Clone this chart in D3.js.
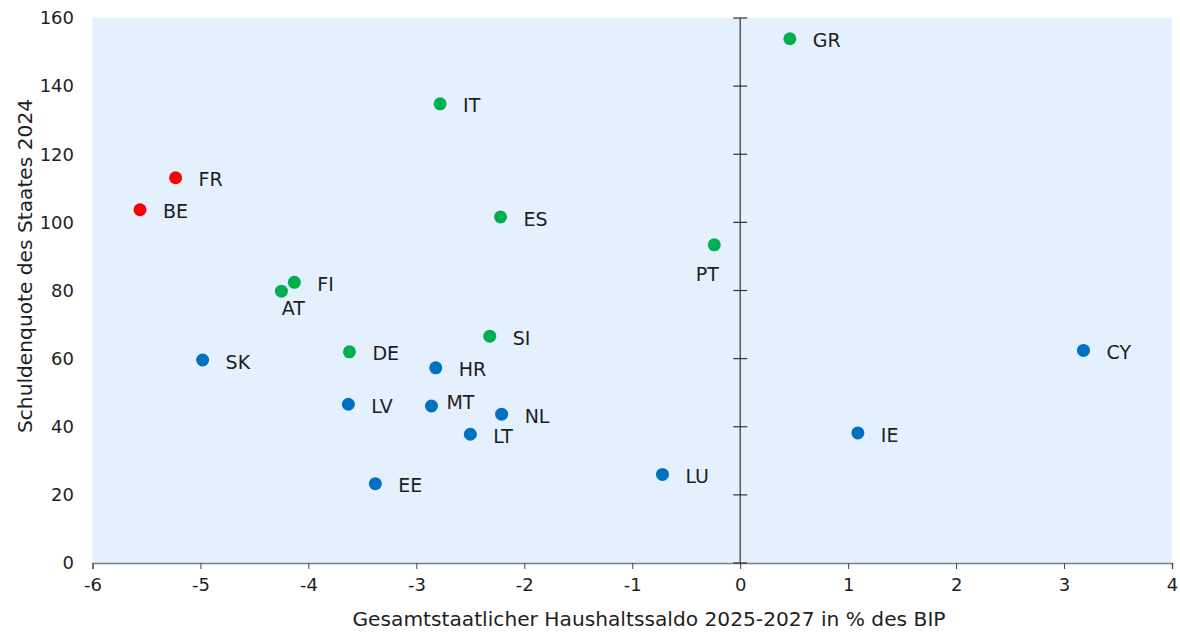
<!DOCTYPE html>
<html>
<head>
<meta charset="utf-8">
<script src="https://cdn.jsdelivr.net/npm/d3@7/dist/d3.min.js"></script>
<style>
  html, body { margin: 0; padding: 0; background: #ffffff; }
  svg { display: block; font-family: "DejaVu Sans", "Lato", sans-serif; }
</style>
</head>
<body>
<svg id="chart" width="1180" height="632"></svg>
<script>
// Country codes
const countries = ["GR","IT","FR","BE","ES","PT","FI","AT","SI","DE","SK","CY","HR","LV","MT","NL","LT","IE","LU","EE"];
// Overall budget balance 2025-2027, % of GDP
const balance = [0.46,-2.78,-5.23,-5.56,-2.22,-0.24,-4.13,-4.25,-2.32,-3.62,-4.98,3.18,-2.82,-3.63,-2.86,-2.21,-2.50,1.09,-0.72,-3.38];
// Government debt ratio 2024
const debt = [153.9,134.8,113.1,103.7,101.6,93.4,82.4,79.8,66.6,62.0,59.6,62.4,57.3,46.6,46.1,43.7,37.8,38.2,26.0,23.3];
// Group of each country
const group = ["g","g","r","r","g","g","g","g","g","g","b","b","b","b","b","b","b","b","b","b"];
// Where each label sits relative to its dot
const labelSide = ["right","right","right","right","right","below-left","right","below","right","right","right","right","right","right","upper-right","right","right","right","right","right"];

const xTicks = [-6,-5,-4,-3,-2,-1,0,1,2,3,4];
const yTicks = [0,20,40,60,80,100,120,140,160];
const xTitle = "Gesamtstaatlicher Haushaltssaldo 2025-2027 in % des BIP";
const yTitle = "Schuldenquote des Staates 2024";

const colors = { g: "#00b050", r: "#ff0000", b: "#0070c0" };
const ink = "#1e1e1e";

const svg = d3.select("#chart");
const m = { left: 92.5, right: 1172, top: 18, bottom: 563 };

const x = d3.scaleLinear().domain([-6, 4]).range([m.left, m.right]);
const y = d3.scaleLinear().domain([0, 160]).range([m.bottom, m.top]);

// plot background
svg.append("rect")
  .attr("x", m.left).attr("y", m.top)
  .attr("width", m.right - m.left).attr("height", m.bottom - m.top)
  .attr("fill", "#e4f0fd");

// bottom axis
const gx = svg.append("g")
  .attr("transform", `translate(0,${m.bottom})`)
  .call(d3.axisBottom(x).tickValues(xTicks).tickSize(6).tickPadding(9).tickFormat(d3.format("d")));
gx.select(".domain").attr("stroke", "#808080").attr("stroke-width", 1.5);
gx.selectAll(".tick line").attr("stroke", "#404040");
gx.selectAll(".tick text").attr("font-size", 18).attr("fill", ink)
  .attr("font-family", "DejaVu Sans, sans-serif")
  .text(d => d < 0 ? "-" + Math.abs(d) : d);

// vertical axis through x = 0, ticks crossing the line
const gy = svg.append("g").attr("transform", `translate(${x(0)},0)`);
gy.append("line")
  .attr("y1", m.top).attr("y2", m.bottom)
  .attr("stroke", "#333").attr("stroke-width", 1.2);
gy.selectAll("line.tk").data(yTicks).join("line")
  .attr("class", "tk")
  .attr("x1", -7).attr("x2", 7)
  .attr("y1", d => y(d)).attr("y2", d => y(d))
  .attr("stroke", "#333").attr("stroke-width", 1.2);

// y tick labels on the left of the plot
svg.append("g").selectAll("text").data(yTicks).join("text")
  .attr("x", 74).attr("y", d => y(d)).attr("dy", "0.35em")
  .attr("text-anchor", "end").attr("font-size", 18).attr("fill", ink)
  .text(d => d);

// axis titles
svg.append("text")
  .attr("x", 649).attr("y", 626)
  .attr("text-anchor", "middle").attr("font-size", 20.2).attr("fill", ink)
  .text(xTitle);
svg.append("text")
  .attr("transform", "translate(32,266) rotate(-90)")
  .attr("text-anchor", "middle").attr("font-size", 20.2).attr("fill", ink)
  .text(yTitle);

const data = countries.map((c, i) => ({ c, x: balance[i], y: debt[i], g: group[i], side: labelSide[i] }));

// dots
svg.append("g").selectAll("circle").data(data).join("circle")
  .attr("cx", d => x(d.x)).attr("cy", d => y(d.y))
  .attr("r", 6.5)
  .attr("fill", d => colors[d.g]);

// labels
const offsets = {
  "right": { dx: 23, dy: 2, anchor: "start" },
  "below": { dx: 12, dy: 17, anchor: "middle" },
  "below-left": { dx: -7, dy: 29, anchor: "middle" },
  "upper-right": { dx: 15, dy: -4, anchor: "start" }
};
svg.append("g").selectAll("text").data(data).join("text")
  .attr("x", d => x(d.x) + offsets[d.side].dx)
  .attr("y", d => y(d.y) + offsets[d.side].dy)
  .attr("dy", "0.35em")
  .attr("text-anchor", d => offsets[d.side].anchor)
  .attr("font-size", 19).attr("fill", ink)
  .text(d => d.c);
</script>
</body>
</html>
